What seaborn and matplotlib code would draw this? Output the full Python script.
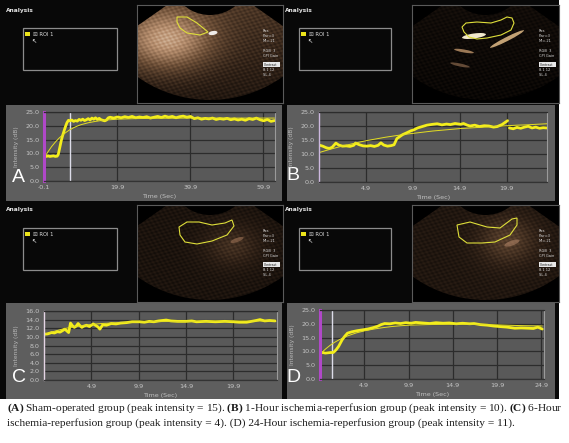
import numpy as np
import pandas as pd
import matplotlib
matplotlib.use("Agg")
import matplotlib.pyplot as plt
import seaborn as sns
from matplotlib.patches import Rectangle, Wedge, Polygon, Ellipse
from matplotlib.colors import LinearSegmentedColormap

# ---------------- data ----------------
# Panel A : sham-operated
a_time = [-0.1, 0.5, 1.0, 1.5, 2.0, 2.5, 3.0, 3.5, 3.8, 4.2, 4.6, 5.0, 5.4, 5.8, 6.2, 6.6,
          7.0, 7.5, 8.0, 8.5, 9.0, 9.5, 10.0, 10.5, 11.0, 11.5, 12.0, 12.5, 13.0, 13.5, 14.0,
          14.5, 15.0, 15.5, 16.0, 16.5, 17.0, 17.5, 18.0, 19.0, 20.0, 21.0, 22.0, 23.0, 24.0,
          25.0, 26.0, 27.0, 28.0, 29.0, 30.0, 31.0, 32.0, 33.0, 34.0, 35.0, 36.0, 37.0, 38.0,
          39.0, 40.0, 41.0, 42.0, 43.0, 44.0, 45.0, 46.0, 47.0, 48.0, 49.0, 50.0, 51.0, 52.0,
          53.0, 54.0, 55.0, 56.0, 57.0, 58.0, 59.0, 60.0, 61.0, 62.0, 63.0]
a_intensity = [9.0, 8.9, 9.1, 8.9, 9.0, 9.1, 8.9, 9.0, 9.6, 12.0, 14.5, 16.5, 18.2, 19.8, 21.2, 22.0,
               21.8, 22.1, 21.6, 21.9, 21.7, 22.3, 22.0, 22.4, 21.9, 22.2, 22.6, 22.1, 22.8, 22.4, 22.9,
               22.3, 22.7, 22.2, 22.0, 21.8, 22.1, 22.9, 23.1, 22.8, 23.2, 22.9, 23.3, 23.0, 23.4,
               22.9, 23.2, 23.0, 23.3, 22.8, 23.1, 23.4, 23.0, 23.5, 23.1, 23.4, 22.9, 23.3, 23.5,
               23.1, 23.4, 22.6, 22.9, 22.4, 22.7, 22.5, 22.8, 22.3, 22.6, 22.4, 22.7, 22.2, 22.5,
               22.1, 22.4, 22.0, 22.6, 22.3, 22.8, 22.2, 21.8, 22.3, 21.6, 21.9]
a_fit_time = [0.2, 1.0, 2.0, 3.0, 4.0, 5.0, 6.0, 7.0, 8.0, 9.0, 10.0, 12.0, 14.0, 16.0, 18.0,
              20.0, 25.0, 30.0, 40.0, 50.0, 63.0]
a_fit = [9.0, 10.6, 12.5, 14.1, 15.5, 16.7, 17.7, 18.6, 19.3, 19.9, 20.4, 21.1, 21.6, 22.0, 22.2,
         22.4, 22.6, 22.7, 22.8, 22.8, 22.8]
a_marker = 7.1

# Panel B : 1-hour ischemia-reperfusion (two recorded segments)
b1_time = [-0.1, 0.3, 0.7, 1.0, 1.3, 1.7, 2.0, 2.4, 2.8, 3.2,
           3.6, 3.8, 4.2, 4.6, 5.0, 5.4, 5.8, 6.2, 6.5, 6.8,
           7.2, 7.6, 7.9, 8.2, 8.5, 8.8, 9.2, 9.7, 10.0, 10.4,
           10.9, 11.4, 12.0, 12.5, 13.0, 13.5, 13.9, 14.4, 15.0, 15.3,
           15.7, 16.0, 16.5, 17.0, 17.5, 18.0, 18.5, 18.9, 19.4, 19.7, 20.0]
b1_intensity = [13.2, 12.8, 12.2, 12.0, 12.4, 13.9, 13.2, 12.8, 12.9, 12.7,
                13.1, 13.9, 13.3, 12.9, 12.8, 13.0, 12.7, 13.1, 14.0, 13.2,
                12.8, 13.0, 13.3, 15.5, 16.2, 16.9, 17.5, 18.3, 18.6, 19.3,
                19.8, 20.3, 20.6, 20.8, 20.4, 20.7, 20.5, 20.9, 20.6, 20.9,
                20.3, 20.0, 20.3, 19.8, 20.1, 20.0, 19.6, 19.8, 20.5, 21.2, 21.9]
b2_time = [20.2, 20.6, 21.0, 21.4, 21.8, 22.2, 22.6, 23.0, 23.4, 23.8, 24.2]
b2_intensity = [19.3, 19.0, 19.5, 19.2, 19.6, 19.9, 19.3, 19.6, 19.2, 19.4, 19.3]
b_fit_time = [-0.1, 1, 2, 3, 4, 5, 6, 7, 8, 9, 10, 11, 12, 13, 14, 15, 16, 17, 18, 19,
              20, 21, 22, 23, 24.2]
b_fit = [10.5, 11.6, 12.5, 13.3, 14.1, 14.8, 15.4, 16.0, 16.5, 17.0, 17.4, 17.8, 18.2, 18.5,
         18.8, 19.1, 19.3, 19.5, 19.7, 19.9, 20.1, 20.3, 20.4, 20.6, 20.8]

# Panel C : 6-hour ischemia-reperfusion
c_time = [-0.1, 0.3, 0.7, 1.0, 1.3, 1.6, 1.9, 2.1, 2.3, 2.5,
          2.7, 2.9, 3.1, 3.3, 3.5, 3.7, 3.9, 4.1, 4.4, 4.7,
          5.1, 5.4, 5.6, 5.8, 6.1, 6.5, 7.0, 7.5, 8.0, 8.6,
          9.2, 10.0, 10.5, 11.0, 11.5, 12.0, 12.8, 13.3, 14.0, 14.9,
          15.5, 16.0, 17.0, 18.0, 19.0, 19.9, 20.5, 21.3, 21.8, 22.3,
          22.7, 23.2, 23.7, 24.3]
c_intensity = [10.6, 10.7, 11.0, 10.9, 11.2, 11.1, 11.5, 11.8, 11.4, 11.0,
               13.2, 12.6, 12.2, 12.5, 13.1, 12.6, 12.2, 12.5, 12.7, 12.4,
               13.0, 12.6, 12.3, 11.8, 12.8, 12.7, 13.1, 13.0, 13.2, 13.3,
               13.5, 13.5, 13.4, 13.6, 13.5, 13.7, 13.9, 13.7, 13.6, 13.6,
               13.7, 13.5, 13.6, 13.5, 13.6, 13.5, 13.4, 13.4, 13.6, 13.8,
               14.0, 13.7, 13.8, 13.7]
c_fit_time = [-0.1, 1, 2, 3, 4, 5, 6, 8, 10, 15, 24.3]
c_fit = [10.6, 11.3, 11.9, 12.3, 12.6, 12.9, 13.1, 13.3, 13.5, 13.6, 13.7]

# Panel D : 24-hour ischemia-reperfusion
d_time = [-0.1, 0.2, 0.5, 0.8, 1.1, 1.4, 1.7, 2.0, 2.2, 2.4,
          2.7, 3.0, 3.5, 4.1, 4.7, 5.3, 5.9, 6.4, 6.8, 7.2,
          7.8, 8.4, 9.0, 9.6, 10.2, 10.7, 11.5, 12.3, 13.0, 13.8,
          14.5, 15.3, 16.0, 16.8, 17.3, 18.0, 18.8, 19.5, 20.2, 21.0,
          21.9, 22.6, 23.4, 24.0, 24.5, 25.0]
d_intensity = [9.3, 9.6, 9.4, 9.5, 9.6, 9.6, 10.5, 11.8, 13.0, 14.2,
               15.5, 16.6, 17.1, 17.5, 17.8, 18.1, 18.6, 19.1, 19.7, 20.1,
               20.0, 20.3, 20.1, 20.4, 20.2, 20.5, 20.3, 20.1, 20.4, 20.2,
               20.3, 20.0, 20.2, 20.0, 20.1, 19.7, 19.5, 19.2, 19.0, 18.8,
               18.4, 18.5, 18.4, 18.3, 18.8, 18.1]
d_fit_time = [-0.1, 0.5, 1.0, 1.5, 2.0, 2.5, 3.0, 4.0, 5.0, 6.0, 7.0, 8.0, 9.0, 10.0, 12.0,
              14.0, 17.0, 20.0, 23.0, 25.0]
d_fit = [9.0, 10.8, 12.1, 13.2, 14.1, 14.9, 15.6, 16.7, 17.5, 18.1, 18.6, 19.0, 19.3, 19.5,
         19.7, 19.8, 19.8, 19.6, 19.3, 19.2]
d_marker = 1.3

# ticks
a_xticks = [-0.1, 19.9, 39.9, 59.9]
bc_xticks = [4.9, 9.9, 14.9, 19.9]
d_xticks = [4.9, 9.9, 14.9, 19.9, 24.9]
yticks_25 = [0.0, 5.0, 10.0, 15.0, 20.0, 25.0]
yticks_16 = [0.0, 2.0, 4.0, 6.0, 8.0, 10.0, 12.0, 14.0, 16.0]

panel_letters = ["A", "B", "C", "D"]
caption_line1 = (r"$\mathbf{(A)}$ Sham-operated group (peak intensity = 15). $\mathbf{(B)}$ 1-Hour "
                 r"ischemia-reperfusion group (peak intensity = 10). $\mathbf{(C)}$ 6-Hour")
caption_line2 = ("ischemia-reperfusion group (peak intensity = 4). (D) 24-Hour "
                 "ischemia-reperfusion group (peak intensity = 11).")

# ROI outlines on the ultrasound frames (local pixel coordinates of each frame)
roi_a = [(40, 12), (50, 12), (60, 18), (71, 27), (63, 30), (50, 28), (43, 23), (40, 17)]
roi_b = [(50, 22), (54, 18), (65, 17), (79, 18), (89, 15), (95, 12), (100, 13), (102, 18),
         (99, 25), (89, 30), (75, 33), (65, 34), (57, 32), (52, 27)]
roi_c = [(42, 22), (50, 17), (62, 17), (75, 20), (88, 18), (95, 15), (97, 21), (90, 30),
         (75, 36), (60, 39), (48, 37), (43, 30)]
roi_d = [(45, 20), (58, 17), (75, 22), (88, 23), (100, 14), (105, 13), (105, 20), (98, 30),
         (83, 37), (70, 38), (55, 38), (47, 32)]

# ---------------- style ----------------
sns.set_style("dark")
plt.rcParams['font.family'] = ['DejaVu Sans']
plt.rcParams['mathtext.fontset'] = 'custom'
plt.rcParams['mathtext.rm'] = 'Liberation Serif'
plt.rcParams['mathtext.bf'] = 'Liberation Serif:bold'

W, H = 569, 443
YEL = '#f4ee1c'
FIT = '#e4de22'
PANEL_BG = '#5e5e5e'
PLOT_BG = '#595959'
GRID = '#2c2c2c'
TICK = '#c6c6c6'

fig = plt.figure(figsize=(W / 100, H / 100), dpi=100)
fig.patch.set_facecolor('white')


def fbox(x0, y0, x1, y1):
    return [x0 / W, 1 - y1 / H, (x1 - x0) / W, (y1 - y0) / H]


# background overlay in pixel coordinates
bg = fig.add_axes([0, 0, 1, 1])
bg.set_zorder(-1)
bg.set_xlim(0, W)
bg.set_ylim(H, 0)
bg.axis('off')
bg.add_patch(Rectangle((0, 0), 559, 399, facecolor='#080808', edgecolor='none'))

panels = [
    dict(analysis=(6, 10), roi=(23, 28, 117, 70), us=(137, 5, 283, 103), gray=(6, 105, 282, 201),
         plot=(44, 112, 275, 181), letter=(18, 178)),
    dict(analysis=(285, 10), roi=(299, 28, 391, 70), us=(412, 5, 559, 103), gray=(287, 105, 555, 201),
         plot=(319, 112, 547, 182), letter=(293, 175)),
    dict(analysis=(6, 209), roi=(23, 228, 117, 270), us=(137, 205, 283, 302), gray=(6, 303, 282, 399),
         plot=(44, 311, 277, 380), letter=(19, 378)),
    dict(analysis=(285, 209), roi=(299, 228, 391, 270), us=(412, 205, 559, 302), gray=(287, 303, 555, 399),
         plot=(320, 310, 544, 379), letter=(293, 377)),
]

fan_cmap = LinearSegmentedColormap.from_list(
    'us', ['#000000', '#2e2016', '#6e5038', '#b89070', '#f2e2cc', '#ffffff'])


def draw_top(p, roi_pts, tex, streaks):
    ax0, ay0 = p['analysis']
    bg.text(ax0, ay0, 'Analysis', fontsize=4.2, color='#e6e6e6', fontweight='bold',
            ha='left', va='center')
    x0, y0, x1, y1 = p['roi']
    bg.add_patch(Rectangle((x0, y0), x1 - x0, y1 - y0, facecolor='none',
                           edgecolor='#8c8c8c', lw=0.9))
    bg.add_patch(Rectangle((x0 + 2, y0 + 4), 5, 4, facecolor='#ece41a', edgecolor='none'))
    bg.text(x0 + 10, y0 + 6, '☒ ROI 1', fontsize=3.8, color='#dcdcdc', ha='left', va='center')
    bg.text(x0 + 8, y0 + 14, '↖', fontsize=4.5, color='white', ha='left', va='center')

    ux0, uy0, ux1, uy1 = p['us']
    w, h = ux1 - ux0, uy1 - uy0
    ax = fig.add_axes(fbox(*p['us']))
    ax.set_xlim(0, w)
    ax.set_ylim(h, 0)
    ax.set_facecolor('black')
    ax.set_xticks([])
    ax.set_yticks([])
    ax.grid(False)
    for s in ax.spines.values():
        s.set_color('#5a5a5a')
        s.set_linewidth(0.8)
    cx, cy = w * 0.5, -30
    fan = Wedge((cx, cy), 125, 35, 145, width=85, facecolor='none', edgecolor='none')
    ax.add_patch(fan)
    Y, X = np.mgrid[0:h, 0:w]
    arr = tex(X, Y, w, h)
    im = ax.imshow(arr, cmap=fan_cmap, vmin=0, vmax=1, extent=[0, w, h, 0],
                   interpolation='bilinear', aspect='auto')
    im.set_clip_path(fan)
    for (ex, ey, ew, eh, ang, col, al) in streaks:
        e = Ellipse((ex, ey), ew, eh, angle=ang, facecolor=col, edgecolor='none', alpha=al)
        ax.add_patch(e)
        e.set_clip_path(fan)
    ax.add_patch(Polygon(roi_pts, closed=True, facecolor='none', edgecolor='#dede3a', lw=0.8))
    # side info text
    info = ['Res', 'Pwr=3', 'MI=.21', '', 'RGB  3', 'CPI Gain']
    for i, s in enumerate(info):
        ax.text(w - 20, 26 + i * 5, s, fontsize=2.6, color='#d8d8d8', ha='left', va='center')
    ax.add_patch(Rectangle((w - 20, 57), 17, 5, facecolor='#e8e8e8', edgecolor='none'))
    ax.text(w - 19, 59.5, 'Contrast', fontsize=2.3, color='#202020', ha='left', va='center')
    ax.text(w - 20, 65, '8.1 12', fontsize=2.6, color='#d8d8d8', ha='left', va='center')
    ax.text(w - 20, 70, 'SL 4', fontsize=2.6, color='#d8d8d8', ha='left', va='center')


def speckle(X, Y):
    return 0.5 + 0.5 * np.sin(0.9 * X + 0.5 * Y) * np.sin(1.3 * Y - 0.4 * X)


def tex_a(X, Y, w, h):
    g = 0.40 * np.exp(-(((X - 30) / 45.0) ** 2 + ((Y - 35) / 30.0) ** 2))
    return np.clip(0.24 + g - 0.0015 * Y + 0.10 * speckle(X, Y), 0, 1)


def tex_b(X, Y, w, h):
    return np.clip(0.05 + 0.06 * speckle(X, Y) - 0.0004 * Y, 0, 1)


def tex_c(X, Y, w, h):
    g = 0.14 * np.exp(-(((X - 95) / 30.0) ** 2 + ((Y - 40) / 22.0) ** 2))
    return np.clip(0.08 + g + 0.08 * speckle(X, Y), 0, 1)


def tex_d(X, Y, w, h):
    g = 0.18 * np.exp(-(((X - 95) / 30.0) ** 2 + ((Y - 35) / 25.0) ** 2))
    return np.clip(0.10 + g + 0.08 * speckle(X, Y), 0, 1)


streaks_a = [(76, 28, 9, 4, -10, '#ffffff', 0.9)]
streaks_b = [(62, 31, 24, 5, -8, '#fff6d8', 0.95), (95, 34, 38, 4, -27, '#f0c890', 0.8),
             (52, 46, 20, 3, 10, '#d8a878', 0.7), (48, 60, 20, 3, 12, '#a07858', 0.6)]
streaks_c = [(100, 35, 14, 4, -20, '#b08060', 0.5)]
streaks_d = [(100, 38, 16, 5, -20, '#c09070', 0.5)]

draw_top(panels[0], roi_a, tex_a, streaks_a)
draw_top(panels[1], roi_b, tex_b, streaks_b)
draw_top(panels[2], roi_c, tex_c, streaks_c)
draw_top(panels[3], roi_d, tex_d, streaks_d)


def draw_chart(p, segments, fit_t, fit_v, xlim, ylim, yticks, xticks, spine_col, spine_lw,
               letter, marker=None):
    gx0, gy0, gx1, gy1 = p['gray']
    bg.add_patch(Rectangle((gx0, gy0), gx1 - gx0, gy1 - gy0, facecolor=PANEL_BG, edgecolor='none'))
    lx, ly = p['letter']
    bg.text(lx, ly, letter, fontsize=14, color='white', ha='center', va='center',
            family='Liberation Sans')
    ax = fig.add_axes(fbox(*p['plot']))
    ax.set_facecolor(PLOT_BG)
    for t, v in segments:
        sns.lineplot(x=t, y=v, ax=ax, color=YEL, lw=2.0, sort=False, estimator=None, legend=False)
    sns.lineplot(x=fit_t, y=fit_v, ax=ax, color=FIT, lw=0.7, sort=False, estimator=None, legend=False)
    if marker is not None:
        ax.axvline(marker, color='#dcdce8', lw=1.0, zorder=1.5)
    ax.set_xlim(*xlim)
    ax.set_ylim(*ylim)
    ax.set_xticks(xticks)
    ax.set_xticklabels([f"{x:.1f}" for x in xticks])
    ax.set_yticks(yticks)
    ax.set_yticklabels([f"{y:.1f}" for y in yticks])
    ax.grid(True, color=GRID, lw=0.9)
    ax.set_axisbelow(True)
    ax.tick_params(length=0, labelsize=4.6, colors=TICK, pad=3)
    ax.set_xlabel('Time (Sec)', fontsize=4.6, color='#c0c0c0', labelpad=3)
    ax.set_ylabel('Intensity (dB)', fontsize=4.3, color='#b8b8b8', labelpad=4.5)
    ax.spines['left'].set_color(spine_col)
    ax.spines['left'].set_linewidth(spine_lw)
    ax.spines['right'].set_color('#9a9a9a')
    ax.spines['right'].set_linewidth(0.8)
    ax.spines['top'].set_color(GRID)
    ax.spines['bottom'].set_color('#333333')
    ax.spines['top'].set_linewidth(0.9)
    ax.spines['bottom'].set_linewidth(0.9)
    for s in ax.spines.values():
        s.set_visible(True)


draw_chart(panels[0], [(a_time, a_intensity)], a_fit_time, a_fit, (-0.1, 63.1), (0, 25),
           yticks_25, a_xticks, '#b048c8', 2.2, panel_letters[0], marker=a_marker)
draw_chart(panels[1], [(b1_time, b1_intensity), (b2_time, b2_intensity)], b_fit_time, b_fit,
           (-0.1, 24.2), (0, 25), yticks_25, bc_xticks, '#cdb8de', 1.0, panel_letters[1])
draw_chart(panels[2], [(c_time, c_intensity)], c_fit_time, c_fit, (-0.1, 24.5), (0, 16),
           yticks_16, bc_xticks, '#e4d4e4', 1.0, panel_letters[2])
draw_chart(panels[3], [(d_time, d_intensity)], d_fit_time, d_fit, (-0.1, 25.2), (0, 25),
           yticks_25, d_xticks, '#b048c8', 2.2, panel_letters[3], marker=d_marker)

# caption
cap1 = bg.text(7, 408, caption_line1, fontsize=8.0, color='#1a1a1a', ha='left', va='center',
               family='Liberation Serif')
cap2 = bg.text(7, 423, caption_line2, fontsize=8.0, color='#1a1a1a', ha='left', va='center',
               family='Liberation Serif')
fig.canvas.draw()
wpx = cap1.get_window_extent().width
fs = 8.0 * 556.0 / wpx
cap1.set_fontsize(fs)
cap2.set_fontsize(fs)

fig.savefig('out.png', dpi=100, facecolor='white')
